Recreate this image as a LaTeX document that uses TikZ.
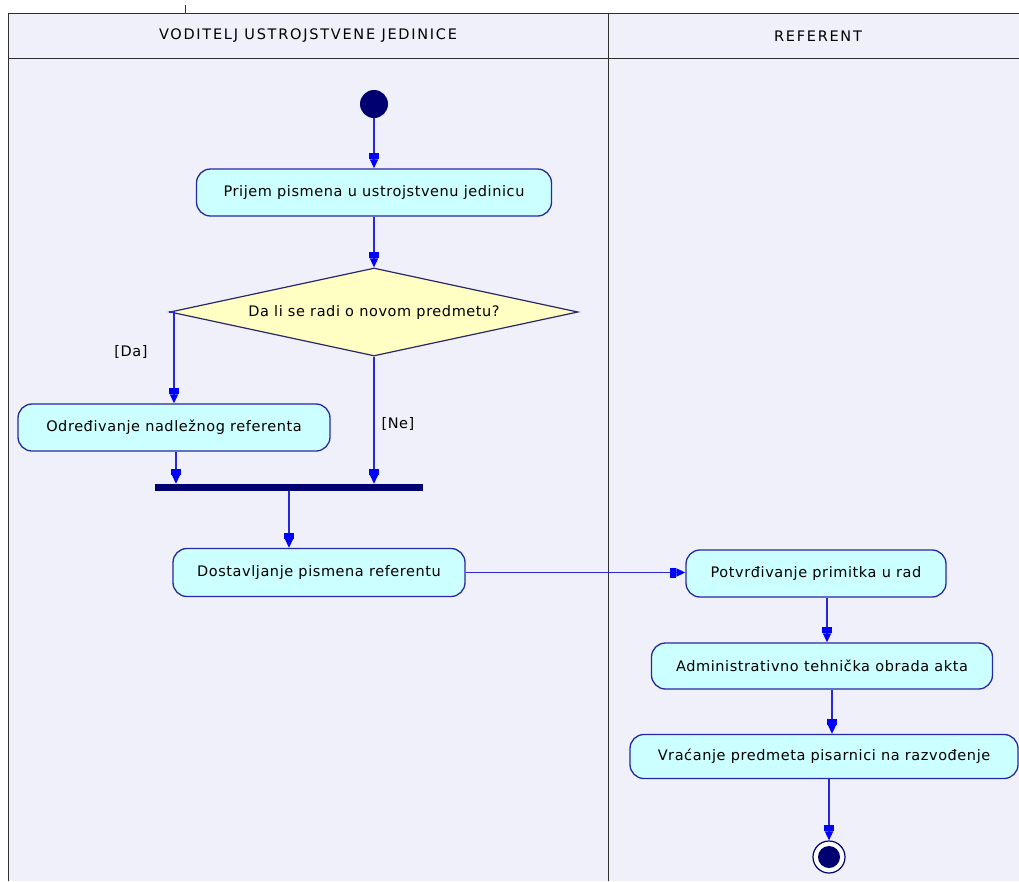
\documentclass[tikz,border=0pt]{standalone}
\usepackage{fontspec}
\setmainfont[LetterSpace=4]{DejaVu Sans}
\newfontfamily\hdrfont[LetterSpace=12]{DejaVu Sans}
\usetikzlibrary{shapes.geometric,arrows.meta}

\definecolor{lanebg}{HTML}{F0F0FA}
\definecolor{framecol}{HTML}{303030}
\definecolor{boxfill}{HTML}{CCFFFF}
\definecolor{boxline}{HTML}{2828A0}
\definecolor{flowcol}{HTML}{2828D8}
\definecolor{tipcol}{HTML}{0000FF}
\definecolor{navy}{HTML}{000070}
\definecolor{decfill}{HTML}{FFFFC4}
\definecolor{decline}{HTML}{282868}

\tikzset{
  activity/.style={draw=boxline, line width=1.3pt, fill=boxfill,
    rounded corners=14pt, inner sep=0pt, font=\fontsize{14.5}{16}\selectfont},
  decision/.style={diamond, draw=decline, line width=1.2pt, fill=decfill,
    inner sep=0pt, aspect=4.64, font=\fontsize{14.5}{16}\selectfont},
  flow/.style={draw=flowcol, line width=1.6pt,
    -{Rectangle[length=6pt,width=10pt,color=tipcol] Triangle[length=9pt,width=8pt,color=tipcol]}},
  guard/.style={font=\fontsize{14.5}{16}\selectfont},
  lanehead/.style={font=\hdrfont\fontsize{14.5}{16}\selectfont},
  lanerule/.style={draw=framecol, line width=1pt}
}

\begin{document}
\begin{tikzpicture}[x=1pt,y=-1pt]
  \useasboundingbox (0,0) rectangle (1019,881);
  \fill[white] (0,0) rectangle (1019,881);

  % swimlane frame
  \fill[lanebg] (8,13) rectangle (1019,881);
  \draw[lanerule] (185,5) -- (185,13);
  \draw[lanerule] (8,881) -- (8,13) -- (1019,13);
  \draw[lanerule] (8,58) -- (1019,58);
  \draw[lanerule] (608,13) -- (608,881);
  \node[lanehead] (lane1) at (308,36) {VODITELJ USTROJSTVENE JEDINICE};
  \node[lanehead] (lane2) at (818,36) {REFERENT};

  % activities and control nodes
  \node[circle, fill=navy, minimum size=28pt, inner sep=0pt] (start) at (374,104) {};
  \node[activity, minimum width=355pt, minimum height=47pt] (prijem) at (374,192.5)
    {Prijem pismena u ustrojstvenu jedinicu};
  \node[decision, minimum width=408pt, minimum height=88pt] (odluka) at (374,312)
    {Da li se radi o novom predmetu?};
  \node[activity, minimum width=312pt, minimum height=47pt] (odred) at (174,427.5)
    {Određivanje nadležnog referenta};
  \node[fill=navy, minimum width=268pt, minimum height=7pt, inner sep=0pt] (spoj) at (289,487.5) {};
  \node[activity, minimum width=292pt, minimum height=48pt] (dostav) at (319,572.5)
    {Dostavljanje pismena referentu};
  \node[activity, minimum width=260pt, minimum height=47pt] (potvr) at (816,573.5)
    {Potvrđivanje primitka u rad};
  \node[activity, minimum width=341pt, minimum height=46pt] (admin) at (822,666)
    {Administrativno tehnička obrada akta};
  \node[activity, minimum width=388pt, minimum height=44pt] (vrac) at (824,756.5)
    {Vraćanje predmeta pisarnici na razvođenje};
  \node[circle, draw=navy, line width=1.2pt, fill=white, minimum size=32pt, inner sep=0pt] (kraj) at (829,857) {};
  \node[circle, fill=navy, minimum size=22pt, inner sep=0pt] (krajin) at (kraj.center) {};

  % control flows
  \draw[flow] (start) -- (prijem);
  \draw[flow] (prijem) -- (odluka.north);
  \draw[flow] (odluka.west) -| (odred.north);
  \draw[flow] (odluka.south) -- (odluka.south |- spoj.north);
  \draw[flow] ([xshift=2pt]odred.south) -- ([xshift=2pt]odred.south |- spoj.north);
  \draw[flow] (spoj.south) -- (spoj.south |- dostav.north);
  \draw[flow] (dostav.east) -- (dostav.east -| potvr.west);
  \draw[flow] ([xshift=11pt]potvr.south) -- ([xshift=11pt]potvr.south |- admin.north);
  \draw[flow] ([xshift=10pt]admin.south) -- ([xshift=10pt]admin.south |- vrac.north);
  \draw[flow] ([xshift=5pt]vrac.south) -- (kraj.north);

  % guards
  \node[guard] (da) at (131,352) {[Da]};
  \node[guard] (ne) at (398,424) {[Ne]};
\end{tikzpicture}
\end{document}
